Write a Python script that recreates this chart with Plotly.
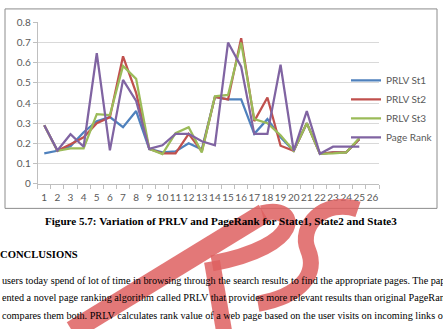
import plotly.graph_objects as go

W, H = 443, 329

categories = [str(i) for i in range(1, 27)]
points = categories[:25]

prlv_st1 = [0.15, 0.163, 0.185, 0.255, 0.31, 0.33, 0.28, 0.36, 0.172, 0.155, 0.16, 0.20, 0.17, 0.43, 0.418, 0.418, 0.247, 0.32, 0.23, 0.163, 0.30, 0.148, 0.155, 0.155, 0.22]
prlv_st2 = [0.29, 0.163, 0.195, 0.23, 0.30, 0.33, 0.632, 0.45, 0.172, 0.15, 0.15, 0.247, 0.16, 0.43, 0.418, 0.722, 0.31, 0.427, 0.188, 0.163, 0.30, 0.148, 0.155, 0.155, 0.22]
prlv_st3 = [0.29, 0.163, 0.175, 0.175, 0.345, 0.34, 0.584, 0.52, 0.172, 0.147, 0.25, 0.28, 0.155, 0.433, 0.44, 0.70, 0.32, 0.30, 0.24, 0.163, 0.30, 0.148, 0.15, 0.155, 0.226]
page_rank = [0.29, 0.165, 0.245, 0.183, 0.647, 0.165, 0.515, 0.41, 0.172, 0.19, 0.247, 0.247, 0.21, 0.19, 0.70, 0.58, 0.247, 0.247, 0.59, 0.163, 0.36, 0.148, 0.183, 0.183, 0.183]

series_names = ["PRLV St1", "PRLV St2", "PRLV St3", "Page Rank"]
series_values = [prlv_st1, prlv_st2, prlv_st3, page_rank]
series_colors = ["#4F81BD", "#C0504D", "#9BBB59", "#8064A2"]

caption = "Figure 5.7: Variation of PRLV and PageRank for State1, State2 and State3"
heading = "CONCLUSIONS"
para_lines = [
    "users today spend of lot of time in browsing through the search results to find the appropriate pages. The pape",
    "ented a novel page ranking algorithm called PRLV that provides more relevant results than original PageRan",
    "compares them both. PRLV calculates rank value of a web page based on the user visits on incoming links o",
]


def px(x):
    return x / W


def py(y):
    return 1 - y / H


fig = go.Figure()
for name, vals, col in zip(series_names, series_values, series_colors):
    fig.add_trace(go.Scatter(x=points, y=vals, mode="lines", name=name,
                             line=dict(color=col, width=2.25)))

axis_font = dict(family="Lato, Open Sans, sans-serif", size=10, color="#595959")

fig.update_layout(
    width=W, height=H,
    margin=dict(l=0, r=0, t=0, b=0),
    paper_bgcolor="white",
    plot_bgcolor="rgba(0,0,0,0)",
    showlegend=True,
    legend=dict(x=px(346), y=py(61), xanchor="left", yanchor="top",
                font=axis_font, bgcolor="rgba(0,0,0,0)", tracegroupgap=0,
                itemwidth=30),
    xaxis=dict(domain=[px(37.7), px(379)], type="category",
               categoryorder="array", categoryarray=categories,
               range=[-0.5, 25.5], showgrid=False, showline=True,
               linecolor="#BFBFBF", linewidth=1, ticks="outside",
               tickson="boundaries", ticklen=4, tickcolor="#BFBFBF",
               ticklabelstandoff=4,
               tickangle=0, tickfont=axis_font, zeroline=False, fixedrange=True),
    yaxis=dict(domain=[py(183.3), py(16)], range=[0, 0.8], dtick=0.1,
               showgrid=True, gridcolor="#D9D9D9", gridwidth=1,
               showline=True, linecolor="#BFBFBF", linewidth=1,
               ticks="outside", ticklen=4, tickcolor="#BFBFBF",
               tickfont=axis_font, zeroline=False, fixedrange=True),
)

# chart border
fig.add_shape(type="rect", xref="paper", yref="paper",
              x0=px(5), x1=px(437), y0=py(209), y1=py(2),
              line=dict(color="#8C8C8C", width=1), layer="above")

# watermark (approximate strokes)
red = "rgba(222,96,96,0.85)"
fig.add_shape(type="line", xref="paper", yref="paper",
              x0=px(264), y0=py(214), x1=px(72), y1=py(336),
              line=dict(color=red, width=20), layer="above")
fig.add_shape(type="path", xref="paper", yref="paper",
              path=f"M {px(262)},{py(214)} C {px(300)},{py(204)} {px(305)},{py(248)} {px(212)},{py(266)}",
              line=dict(color=red, width=16), layer="above")
fig.add_shape(type="line", xref="paper", yref="paper",
              x0=px(212), y0=py(264), x1=px(224), y1=py(336),
              line=dict(color=red, width=16), layer="above")
fig.add_shape(type="path", xref="paper", yref="paper",
              path=(f"M {px(358)},{py(210)} C {px(324)},{py(198)} {px(298)},{py(228)} {px(308)},{py(252)} "
                    f"C {px(318)},{py(276)} {px(302)},{py(300)} {px(258)},{py(308)}"),
              line=dict(color=red, width=16), layer="above")

serif = "Liberation Serif, Times New Roman, serif"
fig.add_annotation(text=f"<b>{caption}</b>", xref="paper", yref="paper",
                   x=px(221), y=py(222), xanchor="center", yanchor="middle",
                   showarrow=False, font=dict(family=serif, size=11.1, color="black"))
fig.add_annotation(text=f"<b>{heading}</b>", xref="paper", yref="paper",
                   x=px(-2), y=py(257), xanchor="left", yanchor="middle",
                   showarrow=False, font=dict(family=serif, size=10.6, color="black"))
for i, (line, yy) in enumerate(zip(para_lines, [284, 302, 320])):
    fig.add_annotation(text=line, xref="paper", yref="paper",
                       x=px(0), y=py(yy), xanchor="left", yanchor="middle",
                       showarrow=False, font=dict(family=serif, size=10.2, color="black"))

fig.write_html("out.html")
